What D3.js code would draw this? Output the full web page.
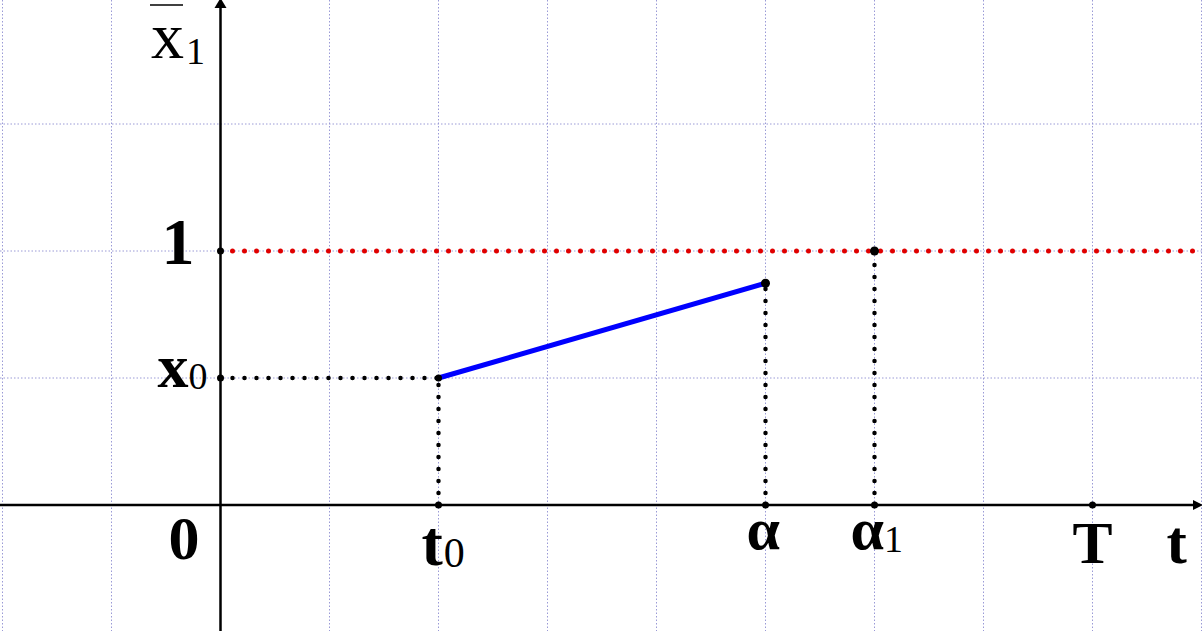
<!DOCTYPE html>
<html><head><meta charset="utf-8">
<script src="https://cdn.jsdelivr.net/npm/d3@7"></script>
<style>html,body{margin:0;padding:0;background:#fff;overflow:hidden}</style>
</head><body>
<svg id="c" width="1202" height="631"></svg>
<script>
// ---- data ----
const gridX = [-2,-1,0,1,2,3,4,5,6,7,8,9];
const gridY = [-0.5,0,0.5,1,1.5];
const t0 = 2, alpha = 5, alpha1 = 6, T = 8, tEnd = 9;
const x0 = 0.5, xAlpha = 0.873, level = 1;
const segment = [[t0, x0],[alpha, xAlpha]];
const dropLines = [
  [[0, x0],[t0, x0]],
  [[t0, 0],[t0, x0]],
  [[alpha, 0],[alpha, xAlpha]],
  [[alpha1, 0],[alpha1, level]]
];
const dots = [[0,x0],[0,level],[t0,x0],[t0,0],[alpha,0],[alpha1,0],[T,0]];
const bigDots = [[alpha,xAlpha],[alpha1,level]];
// tick labels on the t axis
const xLabels = [
  {v:0,      main:"0", sub:"",  size:62, dx:-52, y:559, subSize:0,  subDx:0,  subDy:0},
  {v:t0,     main:"t", sub:"0", size:64, dx:-17, y:565, subSize:42, subDx:1,  subDy:2},
  {v:alpha,  main:"α", sub:"",  size:60, dx:-19, y:549, subSize:0,  subDx:0,  subDy:0},
  {v:alpha1, main:"α", sub:"1", size:60, dx:-24, y:549, subSize:38, subDx:0,  subDy:3},
  {v:T,      main:"T", sub:"",  size:60, dx:-20, y:563, subSize:0,  subDx:0,  subDy:0},
  {v:tEnd,   main:"t", sub:"",  size:61, dx:-35, y:563, subSize:0,  subDx:0,  subDy:0}
];

// ---- scales ----
const svg = d3.select("#c");
const x = d3.scaleLinear().domain([-2, 9]).range([2.5, 1201.5]);
const y = d3.scaleLinear().domain([0, 1]).range([505, 251]);
const W = 1202, H = 631;

// grid
svg.append("g").selectAll("line").data(gridX).join("line")
  .attr("x1", d=>x(d)).attr("x2", d=>x(d)).attr("y1", 0).attr("y2", H)
  .attr("stroke", "#9a9ad6").attr("stroke-width", 1).attr("stroke-dasharray", "1.5,2");
svg.append("g").selectAll("line").data(gridY).join("line")
  .attr("y1", d=>y(d)).attr("y2", d=>y(d)).attr("x1", 0).attr("x2", W)
  .attr("stroke", "#9a9ad6").attr("stroke-width", 1).attr("stroke-dasharray", "1.5,2");

// axes
svg.append("line").attr("x1", 0).attr("x2", W - 6).attr("y1", y(0)).attr("y2", y(0))
  .attr("stroke", "#000").attr("stroke-width", 2.5);
svg.append("line").attr("x1", x(0)).attr("x2", x(0)).attr("y1", 6).attr("y2", H)
  .attr("stroke", "#000").attr("stroke-width", 2.5);
svg.append("path").attr("d", `M${W+1},${y(0)} L${W-9},${y(0)-5} L${W-9},${y(0)+5} Z`).attr("fill", "#000");
svg.append("path").attr("d", `M${x(0)},-2 L${x(0)-6},8 L${x(0)+6},8 Z`).attr("fill", "#000");

// red dotted level line
svg.append("line").attr("x1", x(0)).attr("x2", W).attr("y1", y(level)).attr("y2", y(level))
  .attr("stroke", "#e00000").attr("stroke-width", 5).attr("stroke-linecap", "round")
  .attr("stroke-dasharray", "0,12");

// black dotted drop lines
svg.append("g").selectAll("line").data(dropLines).join("line")
  .attr("x1", d=>x(d[0][0])).attr("y1", d=>y(d[0][1]))
  .attr("x2", d=>x(d[1][0])).attr("y2", d=>y(d[1][1]))
  .attr("stroke", "#000").attr("stroke-width", 4.5).attr("stroke-linecap", "round")
  .attr("stroke-dasharray", "0,12");

// blue segment
svg.append("path").datum(segment)
  .attr("d", d3.line().x(d=>x(d[0])).y(d=>y(d[1])))
  .attr("stroke", "#0000ff").attr("stroke-width", 5).attr("fill", "none");

// dots
svg.append("g").selectAll("circle").data(dots).join("circle")
  .attr("cx", d=>x(d[0])).attr("cy", d=>y(d[1])).attr("r", 3.5).attr("fill", "#000");
svg.append("g").selectAll("circle").data(bigDots).join("circle")
  .attr("cx", d=>x(d[0])).attr("cy", d=>y(d[1])).attr("r", 4.5).attr("fill", "#000");

const font = "'Liberation Serif','Times New Roman',serif";
// x labels
const xl = svg.append("g").attr("font-family", font);
xLabels.forEach(l => {
  const t = xl.append("text").attr("x", x(l.v) + l.dx).attr("y", l.y)
    .attr("font-size", l.size).attr("font-weight", "bold").attr("fill", "#000");
  t.append("tspan").text(l.main);
  if (l.sub) t.append("tspan").attr("dx", l.subDx).attr("dy", l.subDy)
    .attr("font-size", l.subSize).attr("font-weight", "normal").text(l.sub);
});

// y labels
svg.append("text").attr("x", x(0) - 59).attr("y", y(level) + 13)
  .attr("font-family", font).attr("font-size", 66).attr("font-weight", "bold").text("1");
const xo = svg.append("text").attr("x", x(0) - 63).attr("y", y(x0) + 9)
  .attr("font-family", font).attr("font-size", 62).attr("font-weight", "bold");
xo.append("tspan").text("x");
xo.append("tspan").attr("dy", 2).attr("font-size", 38).attr("font-weight", "normal").text("0");

// y-axis title  x̄1
const yt = svg.append("text").attr("x", 151).attr("y", 58)
  .attr("font-family", font).attr("font-size", 66);
yt.append("tspan").text("x");
yt.append("tspan").attr("dx", 2).attr("dy", 6).attr("font-size", 38).text("1");
svg.append("line").attr("x1", 150).attr("x2", 183).attr("y1", 5).attr("y2", 5)
  .attr("stroke", "#000").attr("stroke-width", 1.5);
</script>
</body></html>
